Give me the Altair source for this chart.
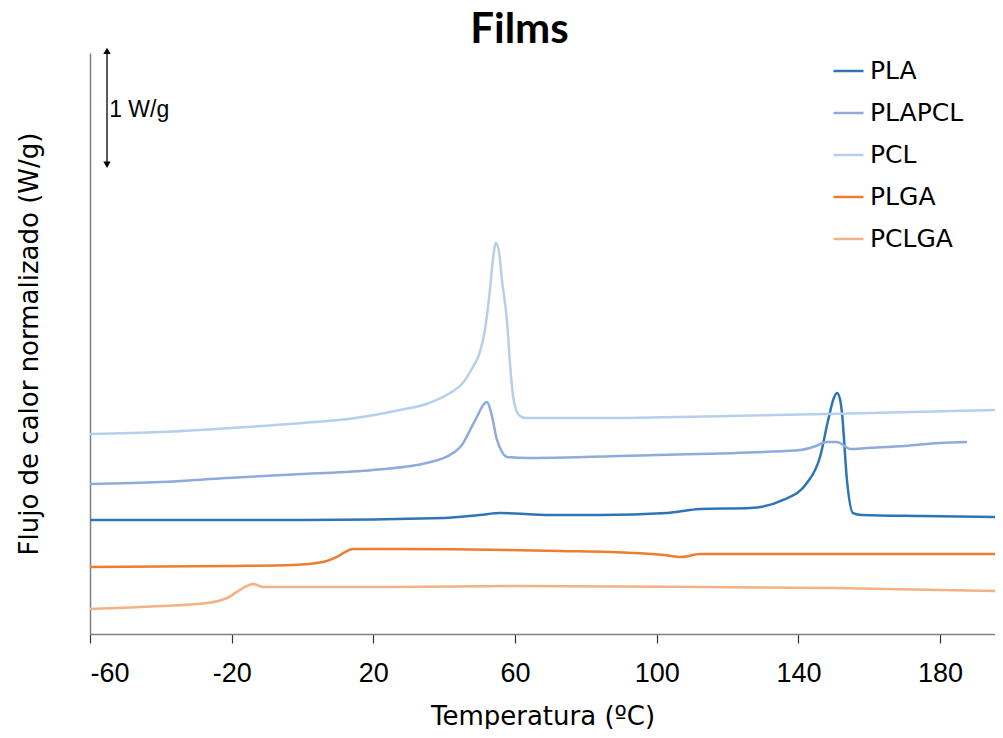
import altair as alt
import pandas as pd

series_names = ["PLA", "PLAPCL", "PCL", "PLGA", "PCLGA"]
series_colors = ["#2E75B6", "#8FAADC", "#B4D0EC", "#ED7D31", "#F4B183"]
x_ticks = [-60, -20, 20, 60, 100, 140, 180]

# Temperature (°C) / normalised heat flow (W/g, stacked offsets)
pla_t = [-60, 0, 40, 50, 55.8, 70, 84, 102.9, 112.2, 126.4, 135.7, 142.4, 146.1, 148.4, 150.0, 150.9, 151.8, 152.3, 153.7, 155.4, 158, 175, 196]
pla_q = [0.95, 0.95, 0.967, 0.992, 1.008, 0.992, 0.992, 1.008, 1.042, 1.05, 1.117, 1.258, 1.475, 1.783, 1.967, 2.008, 1.95, 1.842, 1.283, 1.008, 0.992, 0.983, 0.975]

plapcl_t = [-60, -40, -21.3, 0, 19.9, 35, 42.5, 45, 47.3, 49.5, 51, 52.1, 53.2, 54.9, 56.3, 57.7, 63.4, 100, 130, 140.5, 145, 148, 151, 153, 154.6, 159.4, 170, 180, 187.6]
plapcl_q = [1.25, 1.267, 1.30, 1.333, 1.367, 1.425, 1.508, 1.575, 1.70, 1.825, 1.908, 1.933, 1.85, 1.617, 1.517, 1.475, 1.467, 1.492, 1.517, 1.533, 1.567, 1.60, 1.60, 1.567, 1.542, 1.55, 1.567, 1.592, 1.60]

pcl_t = [-60, -40, -20, 0, 15, 27.5, 35, 41.6, 45, 48.1, 50, 51.5, 53, 53.8, 54.6, 55.4, 56.3, 57.7, 58.6, 59.4, 60.3, 61.4, 63, 84, 120, 160, 196]
pcl_q = [1.667, 1.683, 1.717, 1.758, 1.80, 1.867, 1.917, 2.008, 2.083, 2.225, 2.342, 2.533, 2.892, 3.133, 3.258, 3.20, 2.95, 2.617, 2.242, 1.992, 1.867, 1.817, 1.80, 1.80, 1.817, 1.842, 1.867]

plga_t = [-60, -20, -2.7, 5.8, 9.7, 12, 14.3, 25.6, 72.7, 93.3, 102, 107.1, 112.2, 150, 196]
plga_q = [0.558, 0.567, 0.575, 0.60, 0.642, 0.683, 0.708, 0.708, 0.692, 0.675, 0.658, 0.642, 0.667, 0.667, 0.667]

pclga_t = [-60, -40, -27, -21.3, -16.8, -14, -11.2, 0, 25.6, 60, 112, 149.8, 196]
pclga_q = [0.208, 0.233, 0.258, 0.30, 0.383, 0.417, 0.392, 0.392, 0.392, 0.40, 0.392, 0.383, 0.358]

# 1 W/g scale bar annotation
bar_t = [-55.2]
bar_top = [4.86]
bar_bottom = [3.91]
bar_label_t = [-54.6]
bar_label_q = [4.367]
bar_label = ["1 W/g"]

rows = []
for name, ts, qs in [("PLA", pla_t, pla_q), ("PLAPCL", plapcl_t, plapcl_q),
                     ("PCL", pcl_t, pcl_q), ("PLGA", plga_t, plga_q),
                     ("PCLGA", pclga_t, pclga_q)]:
    for i, (t, q) in enumerate(zip(ts, qs)):
        rows.append({"series": name, "T": t, "Q": q, "order": i})
df = pd.DataFrame(rows)

x_scale = alt.Scale(domain=[-60, 195.5], nice=False, zero=False)
y_scale = alt.Scale(domain=[0, 4.842], nice=False, zero=False)

x_axis = alt.Axis(values=x_ticks, title="Temperatura (ºC)", grid=False,
                  labelExpr="toString(datum.value)",
                  domainColor="#808080", domainWidth=1.5, tickColor="#333333",
                  tickSize=9, tickWidth=1.2, labelFont="Liberation Sans",
                  labelFontSize=27, labelPadding=17, labelColor="black",
                  titleFont="DejaVu Sans", titleFontSize=26, titleFontWeight="normal",
                  titleColor="black", titlePadding=17)
y_axis = alt.Axis(title="Flujo de calor normalizado (W/g)", labels=False, ticks=False,
                  grid=False, domainColor="#808080", domainWidth=1.5,
                  titleFont="DejaVu Sans", titleFontSize=26, titleFontWeight="normal",
                  titleColor="black", titlePadding=48)

lines = alt.Chart(df).mark_line(strokeWidth=2.5, interpolate="monotone", clip=True).encode(
    x=alt.X("T:Q", scale=x_scale, axis=x_axis),
    y=alt.Y("Q:Q", scale=y_scale, axis=y_axis),
    color=alt.Color("series:N", scale=alt.Scale(domain=series_names, range=series_colors),
                    legend=alt.Legend(title=None, orient="none", legendX=742, legendY=1.5,
                                      symbolType="stroke", symbolSize=900, symbolStrokeWidth=2.5,
                                      labelFont="DejaVu Sans", labelFontSize=25, labelColor="black",
                                      labelOffset=5, rowPadding=12, padding=0)),
    order="order:Q",
)

bar_df = pd.DataFrame({"T": bar_t, "Q": bar_top, "Q2": bar_bottom})
rule = alt.Chart(bar_df).mark_rule(color="black", strokeWidth=1.3).encode(
    x=alt.X("T:Q", scale=x_scale, axis=x_axis),
    y=alt.Y("Q:Q", scale=y_scale, axis=y_axis),
    y2="Q2:Q",
)
head_up = alt.Chart(bar_df).mark_point(shape="triangle-up", filled=True, size=55, color="black", opacity=1).encode(
    x=alt.X("T:Q", scale=x_scale, axis=x_axis),
    y=alt.Y("Q:Q", scale=y_scale, axis=y_axis),
)
head_df = pd.DataFrame({"T": bar_t, "Q": bar_bottom})
head_down = alt.Chart(head_df).mark_point(shape="triangle-down", filled=True, size=55, color="black", opacity=1).encode(
    x=alt.X("T:Q", scale=x_scale, axis=x_axis),
    y=alt.Y("Q:Q", scale=y_scale, axis=y_axis),
)
label_df = pd.DataFrame({"T": bar_label_t, "Q": bar_label_q, "text": bar_label})
label = alt.Chart(label_df).mark_text(align="left", baseline="middle", fontSize=23,
                                      font="Liberation Sans", color="black").encode(
    x=alt.X("T:Q", scale=x_scale, axis=x_axis),
    y=alt.Y("Q:Q", scale=y_scale, axis=y_axis),
    text="text:N",
)

chart = alt.layer(lines, rule, head_up, head_down, label).properties(
    width=905, height=581,
    title=alt.TitleParams("Films", fontSize=42, font="Lato", fontWeight="bold", color="black",
                          anchor="middle", frame="group", dx=-23, offset=-4),
    autosize=alt.AutoSizeParams(type="none"),
    padding={"left": 82, "top": 45, "right": 0, "bottom": 95},
).configure_view(stroke=None)

chart.save("out.html", embed_options={"renderer": "svg", "actions": False})
